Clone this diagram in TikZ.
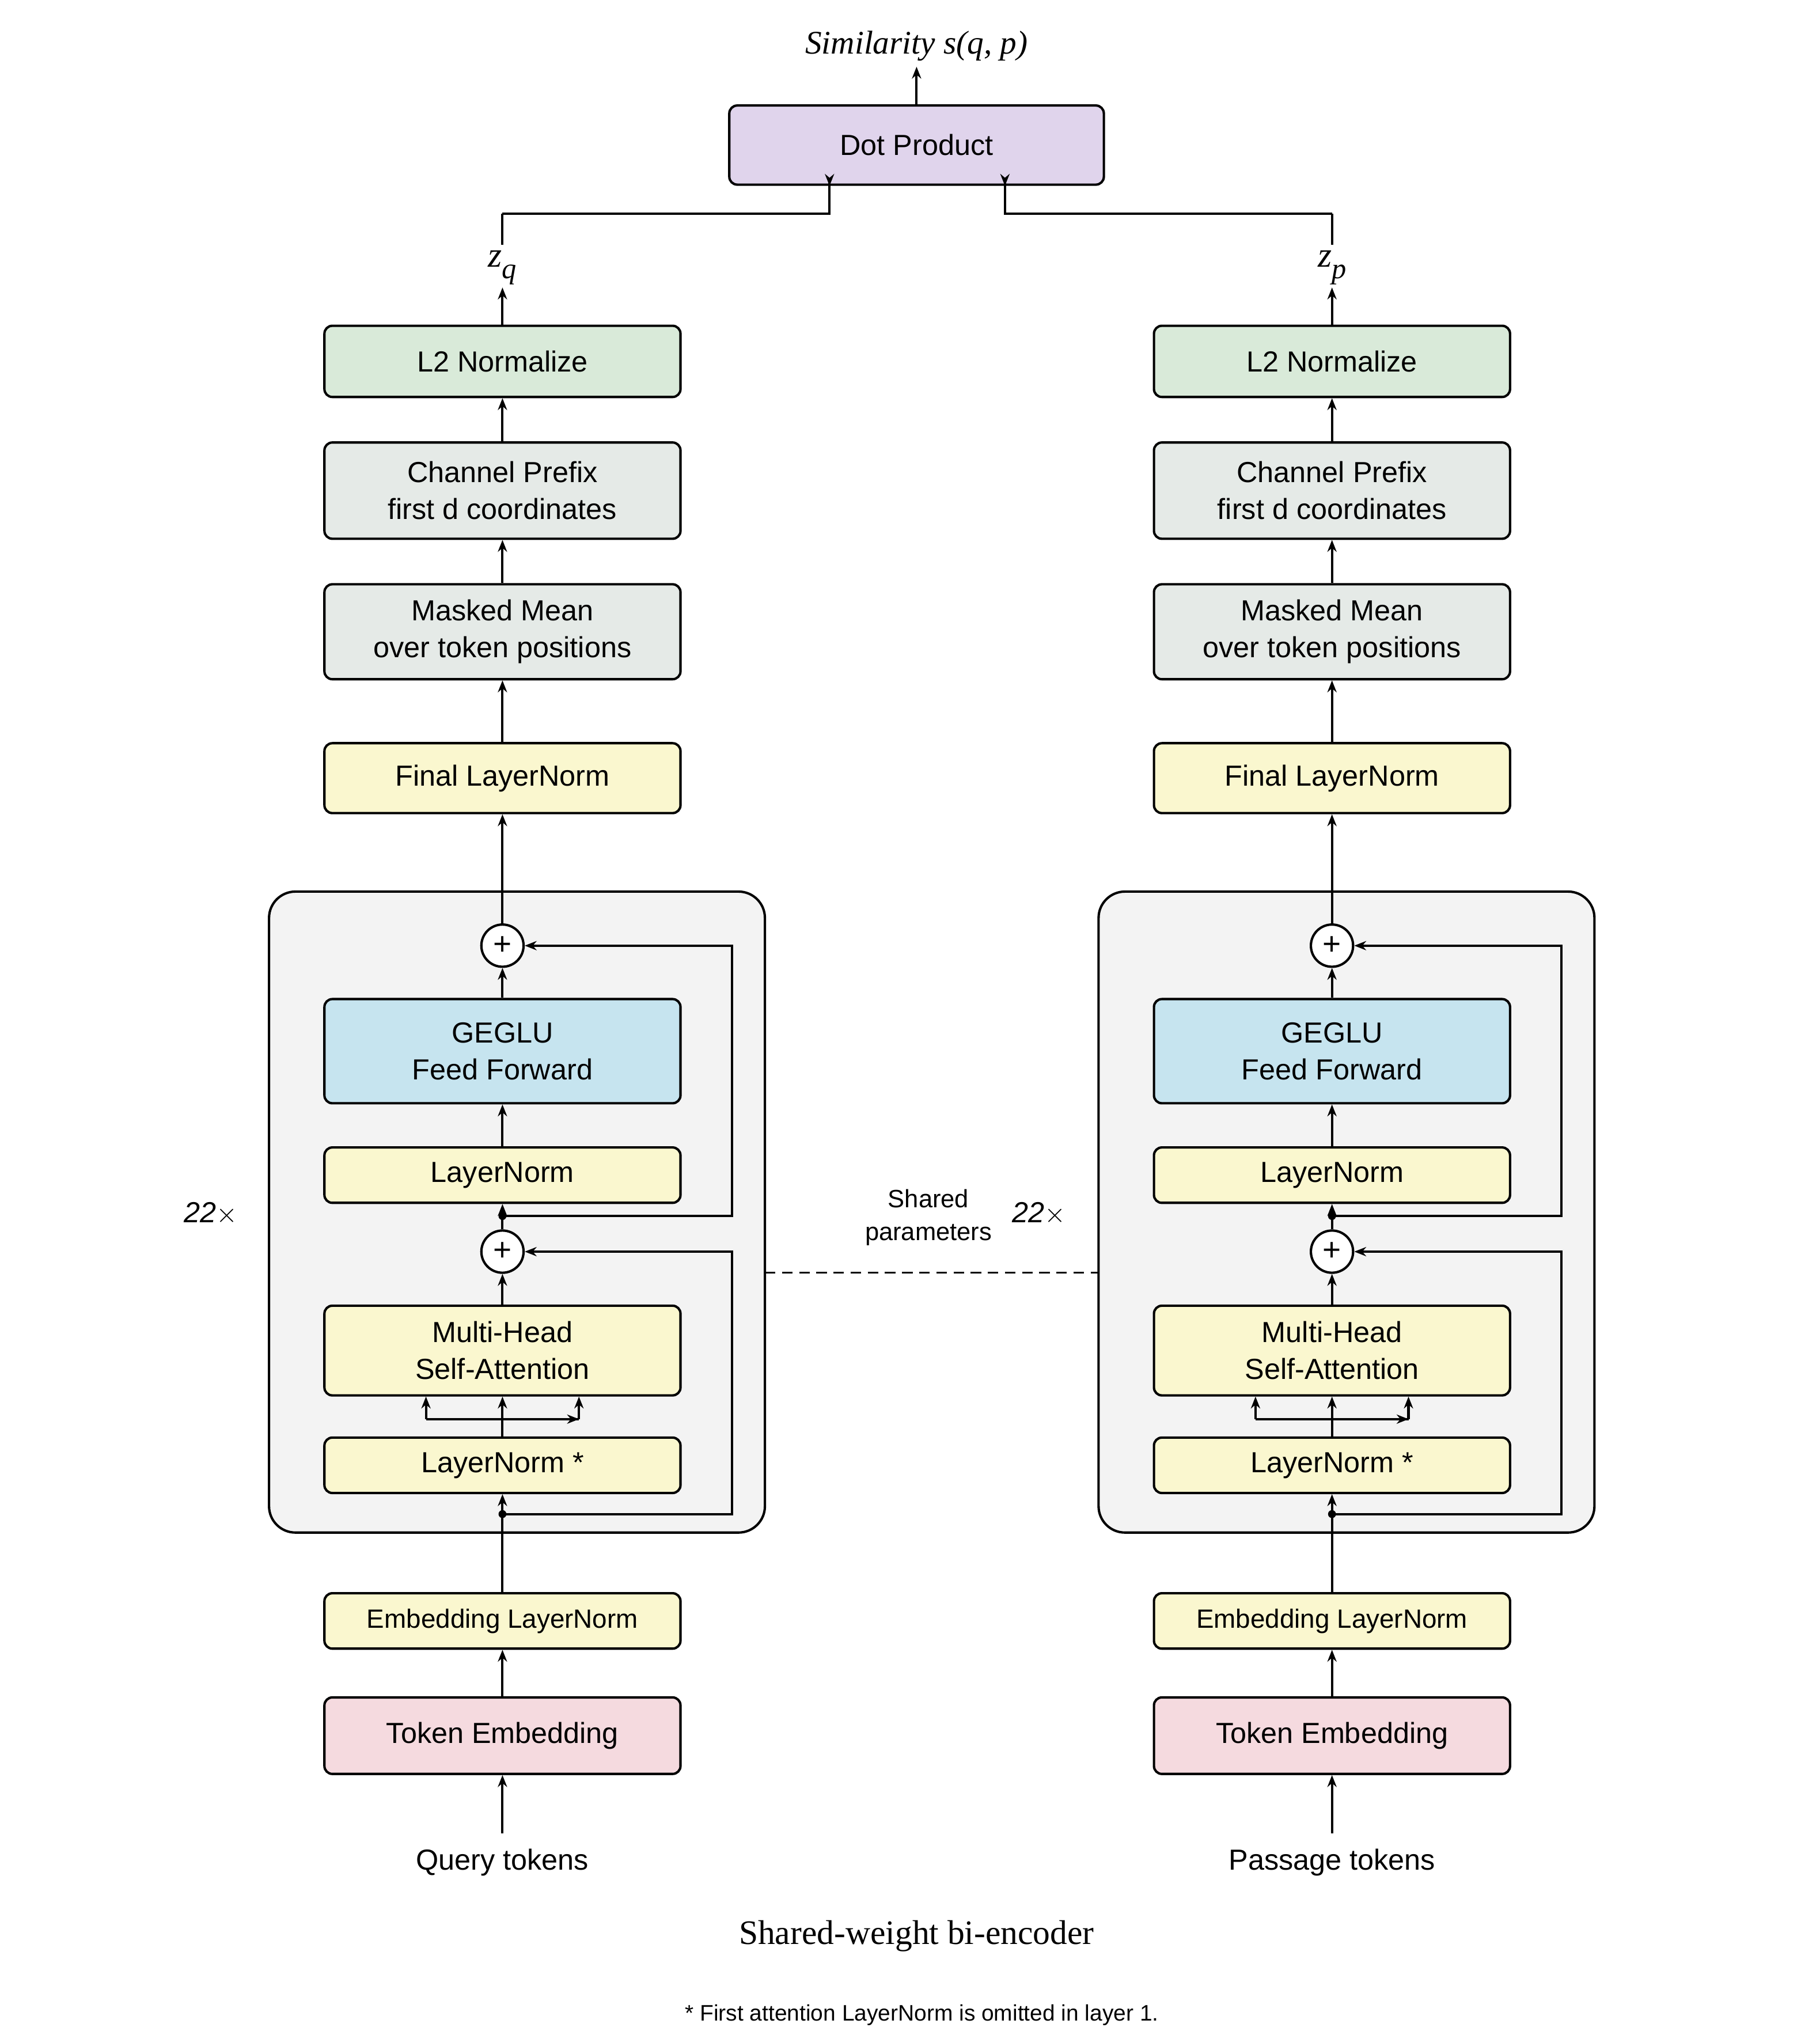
\documentclass[tikz,border=0pt]{standalone}
\usepackage{fontspec}
\setmainfont{Liberation Sans}
\newfontfamily\serifit{Liberation Serif}
\usetikzlibrary{arrows.meta}
\definecolor{cdot}{HTML}{E0D4EC}
\definecolor{cgreen}{HTML}{D9EAD9}
\definecolor{cgrey}{HTML}{E5EAE7}
\definecolor{cyel}{HTML}{FAF7CF}
\definecolor{cblue}{HTML}{C6E4EF}
\definecolor{corange}{HTML}{FCE0B8}
\definecolor{cpink}{HTML}{F5DADF}
\definecolor{cblock}{HTML}{F3F3F3}
\begin{document}
\begin{tikzpicture}[x=1pt,y=-1pt,line width=1.8pt,
  box/.style={draw,rounded corners=6pt,minimum width=270pt,align=center,inner sep=0pt,font=\fontsize{22}{28}\selectfont},
  arr/.style={-{Stealth[length=9pt,width=7pt]}},
  plusnode/.style={draw,circle,fill=white,minimum size=32pt,inner sep=0pt,font=\fontsize{24}{24}\selectfont},
  dotnode/.style={circle,fill=black,inner sep=0pt,minimum size=6pt}]
\useasboundingbox (0,0) rectangle (1380,1546);
\node (sim) at (695,35) {\serifit\itshape\fontsize{25}{30}\selectfont Similarity s(q, p)};
\node[box,fill=cdot,minimum width=284pt,minimum height=60pt] (dp) at (695,110) {Dot Product};
\draw[arr] (dp.north) -- (sim.south);
\foreach \s/\x/\lab/\sub/\tok in {L/381/q/q/Query tokens, R/1010/p/p/Passage tokens}{
  \draw[fill=cblock,rounded corners=20pt] (\x-177,676) rectangle (\x+199,1162);
  \node[box,fill=cgreen,minimum height=54pt] (l2\s) at (\x,274) {L2 Normalize};
  \node[box,fill=cgrey,minimum height=73pt] (cp\s) at (\x,372) {Channel Prefix\\first d coordinates};
  \node[box,fill=cgrey,minimum height=72pt] (mm\s) at (\x,479) {Masked Mean\\over token positions};
  \node[box,fill=cyel,minimum height=53pt] (fl\s) at (\x,590) {Final LayerNorm};
  \node[plusnode] (pa\s) at (\x,717) {+};
  \node[box,fill=cblue,minimum height=79pt] (ff\s) at (\x,797) {GEGLU\\Feed Forward};
  \node[box,fill=cyel,minimum height=42pt] (ln\s) at (\x,891) {LayerNorm};
  \node[plusnode] (pb\s) at (\x,949) {+};
  \node[box,fill=cyel,minimum height=68pt] (mh\s) at (\x,1024) {Multi-Head\\Self-Attention};
  \node[box,fill=cyel,minimum height=42pt] (la\s) at (\x,1111) {LayerNorm *};
  \node[box,fill=cyel,minimum height=42pt,font=\fontsize{20}{24}\selectfont] (el\s) at (\x,1229) {Embedding LayerNorm};
  \node[box,fill=cpink,minimum height=58pt] (te\s) at (\x,1316) {Token Embedding};
  \node[font=\fontsize{22}{26}\selectfont] (tk\s) at (\x,1412) {\tok};
  \node (z\s) at (\x,203) {\serifit\itshape\fontsize{27}{30}\selectfont z\raisebox{-9pt}{\fontsize{22}{24}\selectfont\sub}};
  \coordinate (zt\s) at (\x,162);
  \coordinate (za\s) at (\x,218);
  \node[dotnode] (da\s) at (\x,922) {};
  \node[dotnode] (db\s) at (\x,1148) {};
  \coordinate (ra\s) at (\x+174,922);
  \coordinate (rb\s) at (\x+174,1148);
  \coordinate (brl\s) at (\x-58,1076);
  \coordinate (brr\s) at (\x+58,1076);
  \coordinate (ti\s) at (\x,1390);
  \draw[arr] (ti\s) -- (te\s.south);
  \draw[arr] (te\s.north) -- (el\s.south);
  \draw[arr] (el\s.north) -- (la\s.south);
  \draw[arr] (la\s.north) -- (mh\s.south);
  \draw[arr] (brl\s) -- (brr\s);
  \draw (brl\s) -- (brr\s);
  \draw[arr] (brl\s) -- (brl\s |- mh\s.south);
  \draw[arr] (brr\s) -- (brr\s |- mh\s.south);
  \draw[arr] (mh\s.north) -- (pb\s.south);
  \draw[arr] (pb\s.north) -- (ln\s.south);
  \draw[arr] (ln\s.north) -- (ff\s.south);
  \draw[arr] (ff\s.north) -- (pa\s.south);
  \draw[arr] (pa\s.north) -- (fl\s.south);
  \draw[arr] (fl\s.north) -- (mm\s.south);
  \draw[arr] (mm\s.north) -- (cp\s.south);
  \draw[arr] (cp\s.north) -- (l2\s.south);
  \draw[arr] (l2\s.north) -- (za\s);
  \draw[arr] (db\s.center) -- (rb\s) |- (pb\s.east);
  \draw[arr] (da\s.center) -- (ra\s) |- (pa\s.east);
}
\draw[fill=white,draw=white] (brlL) -- (brlL);
\draw[arr] (ztL) -- (381,162) -| (629,140) -- (dp.south -| 629,0);
\draw (ztL) -- (zL.north);
\draw[arr] (ztR) -| (762,140) -- (dp.south -| 762,0);
\draw (ztR) -- (zR.north);
\node[font=\itshape\fontsize{22}{26}\selectfont] (rep1) at (160,920) {22$\times$};
\node[font=\itshape\fontsize{22}{26}\selectfont] (rep2) at (788,920) {22$\times$};
\node[align=center,font=\fontsize{19}{25}\selectfont] (sh) at (704,923) {Shared\\parameters};
\coordinate (dl) at (580,965);
\coordinate (dr) at (833,965);
\draw[dashed,line width=1.5pt,dash pattern=on 8pt off 5pt] (dl) -- (dr);
\node[font=\serifit\fontsize{26}{30}\selectfont] (cap) at (695,1468) {Shared-weight bi-encoder};
\node[font=\fontsize{17}{20}\selectfont] (foot) at (699,1528) {* First attention LayerNorm is omitted in layer 1.};
\end{tikzpicture}
\end{document}
